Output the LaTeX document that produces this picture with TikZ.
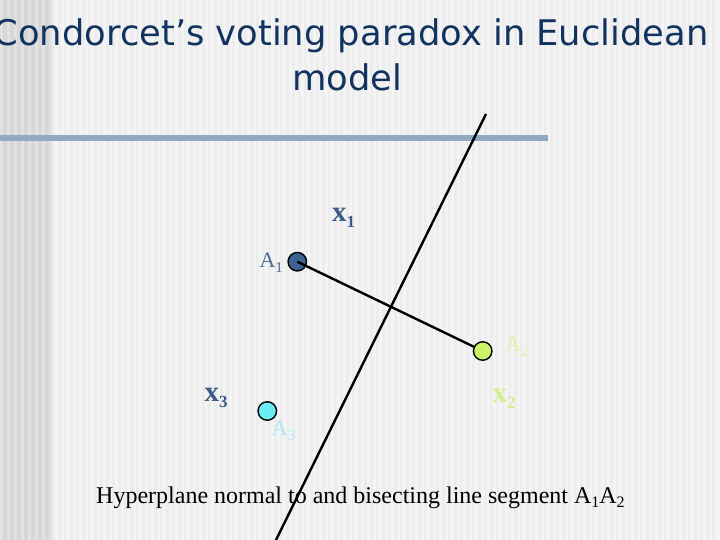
\documentclass[tikz,border=0pt]{standalone}
\usepackage{fontspec}
\setmainfont{Liberation Serif}
\newfontfamily\titlefont{DejaVu Sans}
\definecolor{bgmain}{HTML}{F4F4F4}
\definecolor{bgstripe}{HTML}{EDEDED}
\definecolor{bgleft}{HTML}{E2E2E2}
\definecolor{bgleftdark}{HTML}{D7D7D7}
\definecolor{titlecol}{HTML}{12335F}
\definecolor{barcol}{HTML}{93A8C1}
\definecolor{xdark}{HTML}{3D5C87}
\definecolor{aonelab}{HTML}{4D6D96}
\definecolor{aonefill}{HTML}{3D6393}
\definecolor{atwofill}{HTML}{CCF268}
\definecolor{atwolab}{HTML}{DCF2A2}
\definecolor{xtwo}{HTML}{D3EE8E}
\definecolor{athreefill}{HTML}{6AEDF5}
\definecolor{athreelab}{HTML}{A8EBF1}
\newcommand\subsc[3]{\raisebox{-#1pt}{\fontsize{#2}{#2}\selectfont #3}}
\begin{document}
\begin{tikzpicture}[x=1pt,y=-1pt,
  dot/.style={circle,draw=black,line width=1.4pt,minimum size=18.5pt,inner sep=0pt},
  lbl/.style={inner sep=0pt,anchor=base west},
  xlab/.style={lbl,font=\fontsize{29}{29}\selectfont\bfseries},
  alab/.style={lbl,font=\fontsize{22}{22}\selectfont},
  ttl/.style={inner sep=0pt,anchor=base,text=titlecol,font=\titlefont\fontsize{35.3}{35.3}\selectfont},
  conn/.style={black,line width=2.4pt}]
\useasboundingbox (0,0) rectangle (720,540);
% background
\fill[bgmain] (0,0) rectangle (720,540);
\foreach \x in {52,58,...,716} \fill[bgstripe] (\x,0) rectangle ++(3,540);
\fill[bgleft] (0,0) rectangle (52,540);
\foreach \x in {3,10,...,45} \fill[bgleftdark] (\x,0) rectangle ++(3.5,540);
% title
\node[ttl] (t1) at (351,46) {Condorcet’s voting paradox in Euclidean};
\node[ttl] (t2) at (347,90.5) {model};
\coordinate (bl) at (0,138);
\coordinate (br) at (548,138);
\draw[barcol,line width=5.5pt] (bl) -- (br);
% points
\node[dot,fill=aonefill] (A1) at (297.3,261.7) {};
\node[dot,fill=atwofill] (A2) at (482.7,351) {};
\node[dot,fill=athreefill] (A3) at (267.3,411) {};
\draw[conn] (A1.center) -- (A2);
% labels
\node[xlab,text=xdark] (x1) at (332,221.7) {x\subsc{6}{17}{1}};
\node[xlab,text=xtwo] (x2) at (492.5,402) {x\subsc{6}{17}{2}};
\node[xlab,text=xdark] (x3) at (204.5,401.7) {x\subsc{6}{17}{3}};
\node[alab,text=aonelab] (a1) at (259.3,267.3) {A\subsc{5}{15}{1}};
\node[alab,text=atwolab] (a2) at (505,351.7) {A\subsc{5}{15}{2}};
\node[alab,text=athreelab] (a3) at (271.7,435) {A\subsc{5}{15}{3}};
\node[lbl,font=\fontsize{24}{24}\selectfont] (cap) at (96,503) {Hyperplane normal to and bisecting line segment A\subsc{4}{16}{1}A\subsc{4}{16}{2}};
% hyperplane
\coordinate (ht) at (486,114);
\coordinate (hb) at (276,540);
\draw[conn] (ht) -- (hb);
\end{tikzpicture}
\end{document}
